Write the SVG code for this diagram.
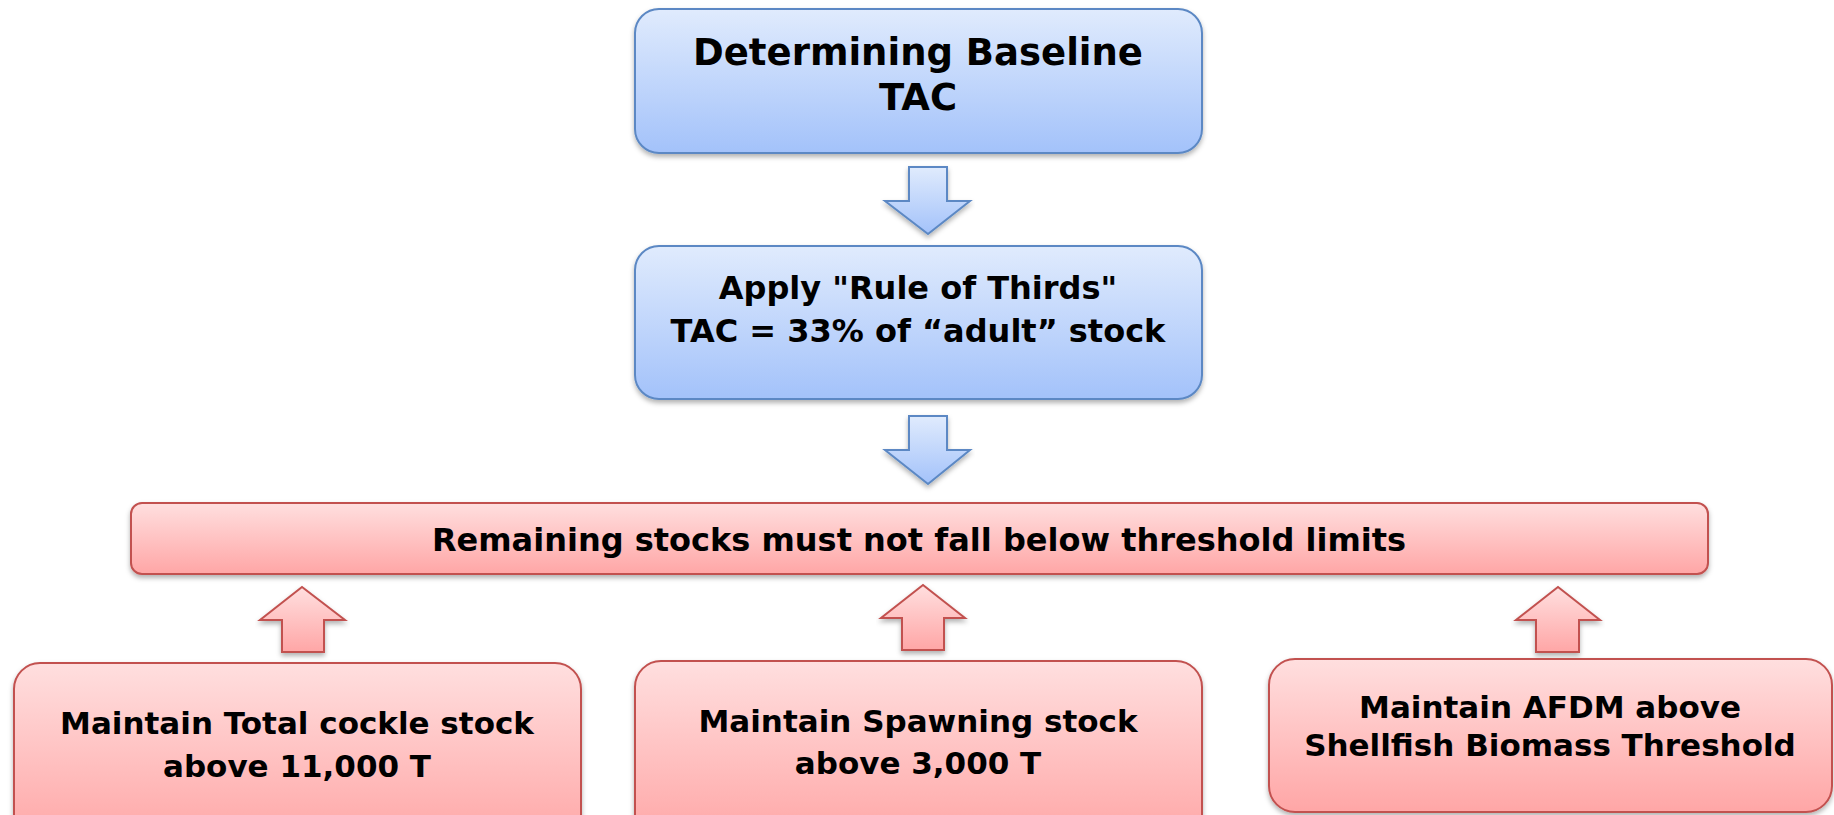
<svg xmlns="http://www.w3.org/2000/svg" width="1834" height="815" viewBox="0 0 1834 815">
<defs>
<linearGradient id="gBlue" x1="0" y1="0" x2="0" y2="1">
<stop offset="0" stop-color="#e0ebfd"/>
<stop offset="1" stop-color="#a3c2fa"/>
</linearGradient>
<linearGradient id="gRed" x1="0" y1="0" x2="0" y2="1">
<stop offset="0" stop-color="#ffdfdf"/>
<stop offset="1" stop-color="#ffa6a6"/>
</linearGradient>
<filter id="sh" x="-5%" y="-10%" width="110%" height="130%">
<feDropShadow dx="0" dy="3" stdDeviation="2.5" flood-color="#000" flood-opacity="0.3"/>
</filter>
</defs>
<style>
.blue{fill:url(#gBlue);stroke:#5b88c4;stroke-width:2}
.red{fill:url(#gRed);stroke:#c2514f;stroke-width:2}
text{font-family:"DejaVu Sans","Verdana",sans-serif;font-weight:bold;fill:#000;text-anchor:middle}
.t1{font-size:37px}
.t2{font-size:32px}
.t3{font-size:31px}
.t4{font-size:32px}
</style>
<rect width="1834" height="815" fill="#fff"/>
<g id="connectors">
<path class="blue" filter="url(#sh)" d="M909,167 H947 V201 H970 L928,234 L885,201 H909 Z"/>
<path class="blue" filter="url(#sh)" d="M909,416 H947 V450 H970 L928,484 L885,450 H909 Z"/>
<path class="red" filter="url(#sh)" d="M282,652 V620 H260 L302,587 L345,620 H324 V652 Z"/>
<path class="red" filter="url(#sh)" d="M902,650 V618 H881 L923,585 L965,618 H944 V650 Z"/>
<path class="red" filter="url(#sh)" d="M1536,652 V620 H1516 L1558,587 L1600,620 H1579 V652 Z"/>
</g>
<g id="node-baseline">
<rect class="blue" filter="url(#sh)" x="635" y="9" width="567" height="144" rx="24"/>
<text class="t1" x="918" y="65">Determining Baseline</text>
<text class="t1" x="918" y="110">TAC</text>
</g>
<g id="node-thirds">
<rect class="blue" filter="url(#sh)" x="635" y="246" width="567" height="153" rx="24"/>
<text class="t2" x="918" y="299">Apply "Rule of Thirds"</text>
<text class="t2" x="918" y="342">TAC = 33% of “adult” stock</text>
</g>
<g id="node-remaining">
<rect class="red" filter="url(#sh)" x="131" y="503" width="1577" height="71" rx="11"/>
<text class="t4" x="919" y="551">Remaining stocks must not fall below threshold limits</text>
</g>
<g id="node-total">
<rect class="red" filter="url(#sh)" x="14" y="663" width="567" height="180" rx="26"/>
<text class="t3" x="297" y="734">Maintain Total cockle stock</text>
<text class="t3" x="297" y="777">above 11,000 T</text>
</g>
<g id="node-spawning">
<rect class="red" filter="url(#sh)" x="635" y="661" width="567" height="180" rx="26"/>
<text class="t3" x="918" y="732">Maintain Spawning stock</text>
<text class="t3" x="918" y="774">above 3,000 T</text>
</g>
<g id="node-afdm">
<rect class="red" filter="url(#sh)" x="1269" y="659" width="563" height="153" rx="26"/>
<text class="t3" x="1550" y="718">Maintain AFDM above</text>
<text class="t3" x="1550" y="756">Shellfish Biomass Threshold</text>
</g>
</svg>
